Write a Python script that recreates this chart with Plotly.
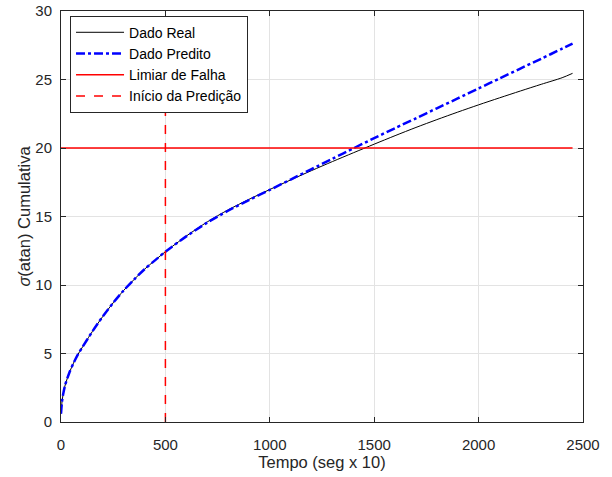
import plotly.graph_objects as go

x_real = [0, 5, 10, 20, 40, 60, 80, 100, 150, 200, 250, 300, 350, 400, 450, 500,
          600, 700, 800, 900, 1000, 1100, 1200, 1300, 1400, 1500, 1600, 1700, 1800,
          1900, 2000, 2100, 2200, 2300, 2400, 2450]
y_real = [0.6, 1.5, 2.0, 2.7, 3.6, 4.3, 4.9, 5.4, 6.6, 7.7, 8.7, 9.6, 10.4, 11.15, 11.8, 12.43,
          13.57, 14.6, 15.48, 16.25, 16.97, 17.67, 18.35, 19.01, 19.65, 20.28, 20.9, 21.5, 22.07,
          22.62, 23.15, 23.66, 24.16, 24.65, 25.13, 25.45]
x_pred = x_real
y_pred = [0.6, 1.5, 2.0, 2.7, 3.6, 4.3, 4.9, 5.4, 6.6, 7.7, 8.7, 9.6, 10.4, 11.15, 11.8, 12.43,
          13.55, 14.55, 15.42, 16.2, 16.94, 17.7, 18.46, 19.22, 19.97, 20.72, 21.45, 22.17, 22.9,
          23.62, 24.35, 25.07, 25.8, 26.52, 27.25, 27.62]
limiar = 20
x_limiar = [0, 2450]
inicio_pred = 500
y_inicio = [0, 30]

x_ticks = [0, 500, 1000, 1500, 2000, 2500]
y_ticks = [0, 5, 10, 15, 20, 25, 30]

names = ["Dado Real", "Dado Predito", "Limiar de Falha", "Início da Predição"]

fig = go.Figure()
fig.add_trace(go.Scatter(x=x_real, y=y_real, mode="lines", name=names[0],
                         line=dict(color="black", width=1, shape="spline", smoothing=0.8)))
fig.add_trace(go.Scatter(x=x_pred, y=y_pred, mode="lines", name=names[1],
                         line=dict(color="blue", width=2.5, dash="dashdot", shape="spline", smoothing=0.8)))
fig.add_trace(go.Scatter(x=x_limiar, y=[limiar, limiar], mode="lines", name=names[2],
                         line=dict(color="red", width=1.5)))
fig.add_trace(go.Scatter(x=[inicio_pred, inicio_pred], y=y_inicio, mode="lines", name=names[3],
                         line=dict(color="red", width=1.5, dash="dash")))

axis_common = dict(showgrid=True, gridcolor="#e3e3e3", gridwidth=1, zeroline=False,
                   showline=True, linecolor="#262626", linewidth=1, mirror="ticks",
                   ticks="inside", ticklen=5, tickcolor="#262626", automargin=False,
                   tickfont=dict(size=15, color="#262626"))

fig.update_layout(
    width=612, height=477,
    margin=dict(l=61, r=29, t=11, b=55),
    paper_bgcolor="white", plot_bgcolor="white",
    font=dict(family="Liberation Sans, Arial, sans-serif", color="#262626"),
    xaxis=dict(range=[0, 2500], tickvals=x_ticks, ticklabelstandoff=9,
               title=dict(text="Tempo (seg x 10)", font=dict(size=16.5), standoff=3),
               **axis_common),
    yaxis=dict(range=[0, 30], tickvals=y_ticks, ticklabelstandoff=5,
               title=dict(text="<i>σ</i>(atan) Cumulativa", font=dict(size=16.5), standoff=0),
               **axis_common),
    legend=dict(x=0.0173, y=0.9886, xanchor="left", yanchor="top",
                bgcolor="white", bordercolor="#262626", borderwidth=1,
                font=dict(size=14, color="black"), tracegroupgap=0,
                itemwidth=48),
    showlegend=True,
)

fig.write_html("out.html", post_script="document.body.style.margin='0';",
               config={"displayModeBar": False})
